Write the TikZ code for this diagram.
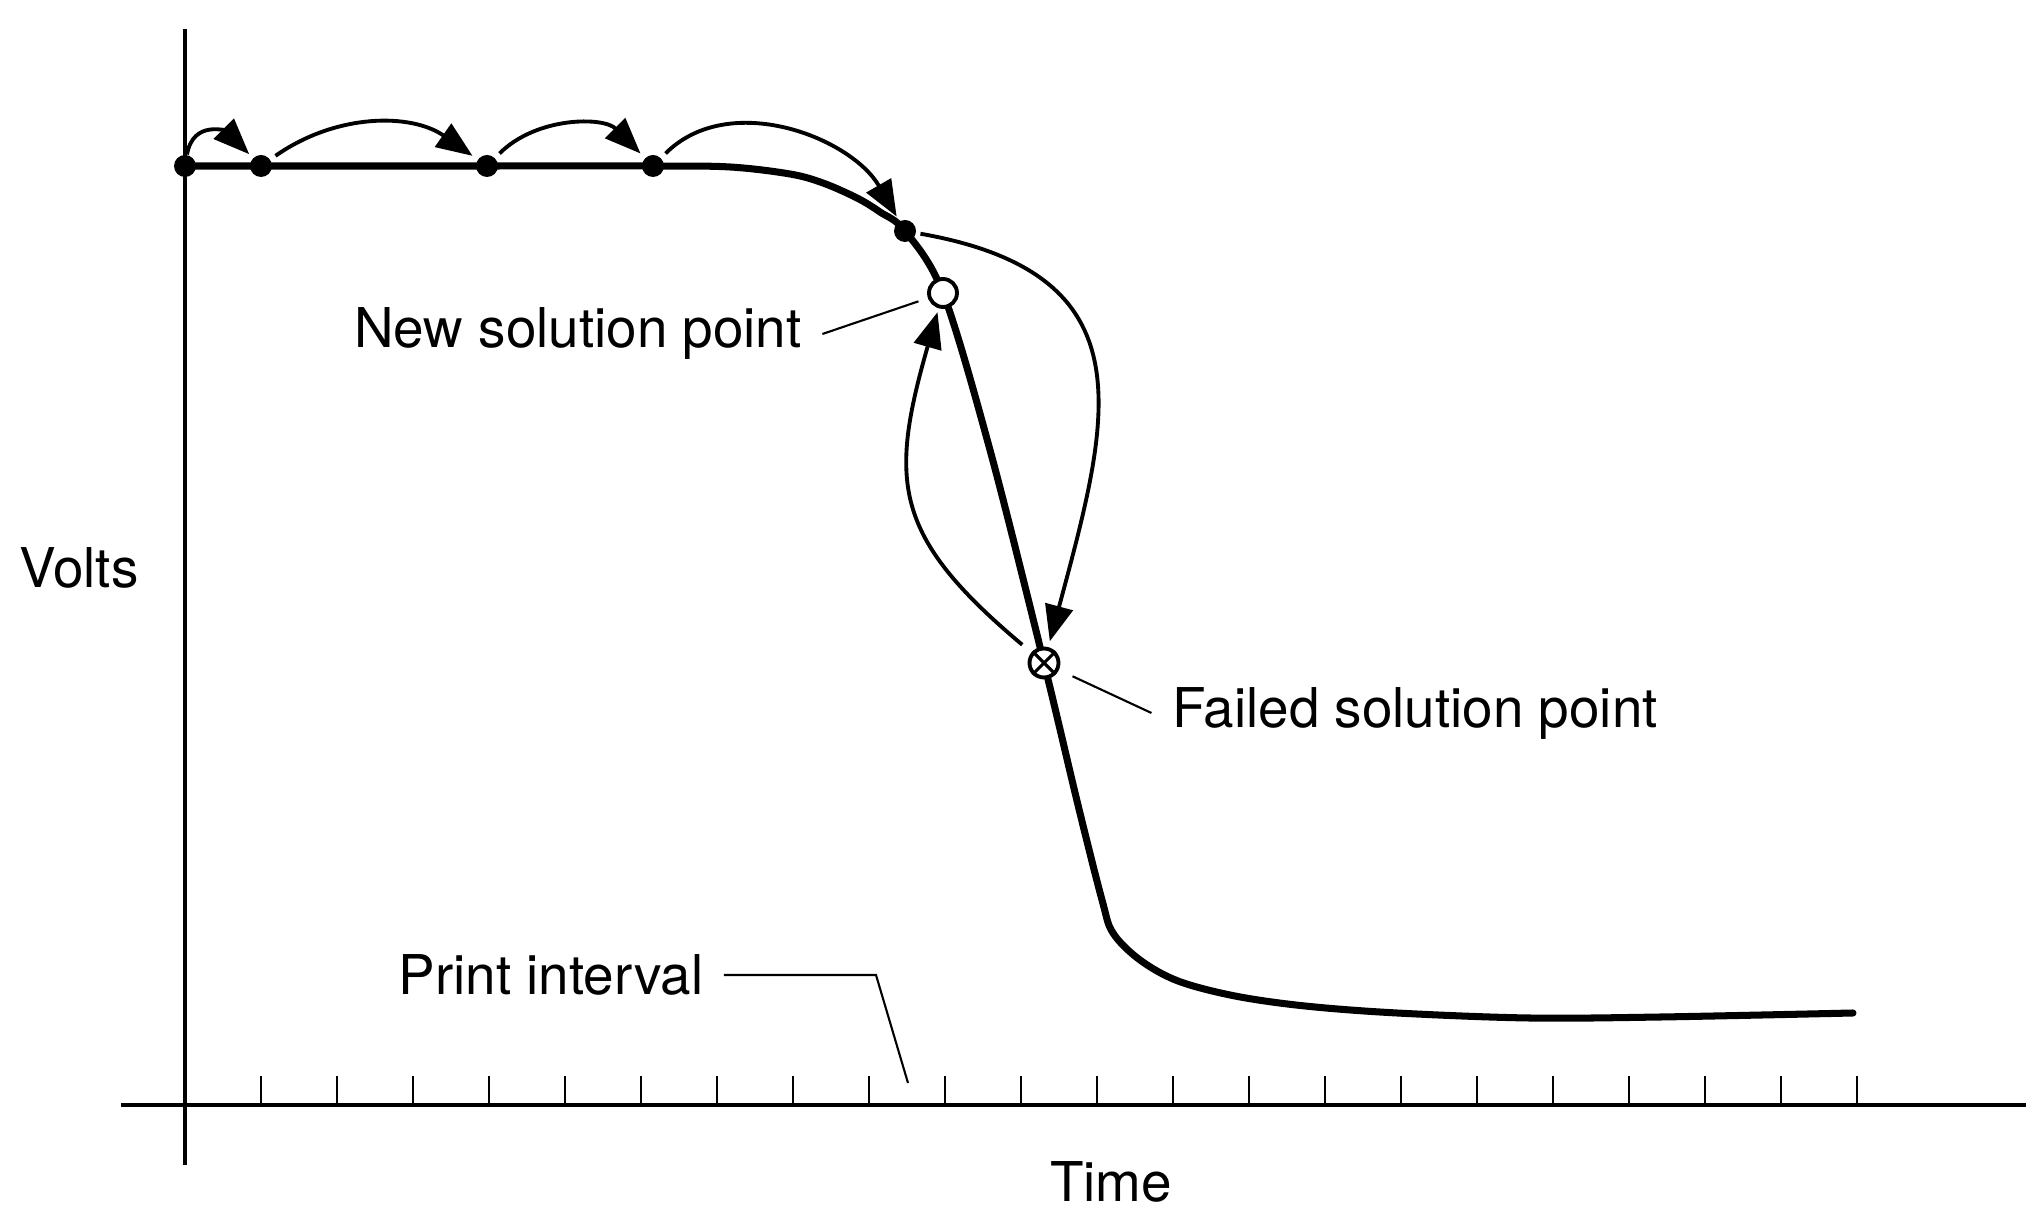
\documentclass[tikz,border=0pt]{standalone}
\usepackage{fontspec}
\setmainfont{TeX Gyre Heros}
\usetikzlibrary{arrows.meta}

\begin{document}
\begin{tikzpicture}[font=\fontsize{15.6pt}{18pt}\selectfont,
  >={Triangle[length=3.6mm, width=2.8mm]},
  dot/.style={circle, fill=black, inner sep=0pt, minimum size=2.2mm},
  opn/.style={circle, draw, fill=white, line width=1.1pt, inner sep=0pt, minimum size=2.8mm},
  fl/.style={opn, minimum size=2.9mm},
  lbl/.style={inner xsep=2mm, inner ysep=0pt},
  ax/.style={line width=1.1pt},
  tk/.style={line width=0.8pt},
  tr/.style={line width=2pt, line join=round, line cap=round},
  j/.style={->, line width=1.1pt},
  ld/.style={line width=0.6pt}]
\useasboundingbox (0,0) rectangle (20.37,-12.22);
% axes + print interval ticks
\draw[ax] (1.85,-0.29) -- (1.85,-11.65);
\draw[ax] (1.21,-11.05) -- (20.26,-11.05);
\foreach \k in {1,...,22} \draw[tk] (1.85+0.76*\k,-11.05) -- ++(0,0.29);
% time points on the trace
\coordinate (t0) at (1.85,-1.66);
\coordinate (t1) at (2.61,-1.66);
\coordinate (t2) at (4.87,-1.66);
\coordinate (t3) at (6.53,-1.66);
\coordinate (t4) at (9.05,-2.31);
\coordinate (tn) at (9.43,-2.93);
\coordinate (tf) at (10.44,-6.63);
\draw[tr] plot[smooth, tension=0.55] coordinates {(t0) (t1) (t2) (t3)
  (7.30,-1.67) (7.90,-1.74) (8.23,-1.83) (8.57,-1.98) (8.80,-2.12)
  (t4) (tn) (9.90,-4.50) (tf) (10.78,-8.05) (11.02,-9.00) (11.13,-9.33)
  (11.40,-9.60) (11.78,-9.81) (12.35,-9.96) (13.05,-10.06) (13.97,-10.13)
  (15.29,-10.18) (16.61,-10.17) (18.53,-10.13)};
\node[dot] (p0) at (t0) {};
\node[dot] (p1) at (t1) {};
\node[dot] (p2) at (t2) {};
\node[dot] (p3) at (t3) {};
\node[dot] (p4) at (t4) {};
\node[opn] (new) at (tn) {};
\node[fl] (fail) at (tf) {};
\draw[line width=0.9pt] (fail.north west) -- (fail.south east) (fail.north east) -- (fail.south west);
% labels
\node[lbl] (vlt) at (0.79,-5.68) {Volts};
\node[lbl] (tme) at (11.11,-11.82) {Time};
\node[lbl] (newlbl) at (5.78,-3.34) {New solution point};
\node[lbl] (faillbl) at (14.15,-7.13) {Failed solution point};
\node[lbl] (prlbl) at (5.51,-9.75) {Print interval};
\coordinate (pbend) at (8.76,-9.77);
\coordinate (pint) at (9.08,-10.83);
\draw[ld, shorten >=1mm] (newlbl.east) -- (new);
\draw[ld, shorten <=1.5mm] (fail) -- (faillbl.west);
\draw[ld] (prlbl.east) -- (prlbl.east -| pbend) -- (pint);
% time steps (thin arrows)
\draw[j, shorten >=0.5mm] (p0) to[out=80, in=135, looseness=1.4] (p1);
\draw[j, shorten <=0.6mm, shorten >=0.6mm] (p1) to[out=35, in=145] (p2);
\draw[j, shorten <=0.6mm, shorten >=0.6mm] (p2) to[out=45, in=135] (p3);
\draw[j, shorten <=0.6mm, shorten >=0.5mm] (p3) to[out=45, in=120] (p4);
\draw[j, shorten <=0.4mm, shorten >=0.6mm] (p4) to[out=-10, in=75, looseness=1.4] (fail);
\draw[j, shorten <=1.2mm, shorten >=0.4mm] (fail) to[out=140, in=-106, looseness=1.3] (new);
\end{tikzpicture}
\end{document}
